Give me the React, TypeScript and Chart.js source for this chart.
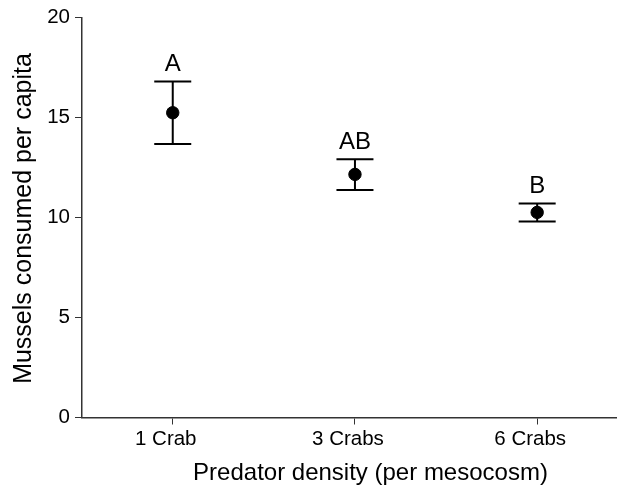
import React, { useEffect, useRef } from 'react';
import { Chart, registerables } from 'chart.js';

Chart.register(...registerables);

const categories = ['1 Crab', '3 Crabs', '6 Crabs'];
const means = [15.23, 12.15, 10.25];
const upper = [16.79, 12.9, 10.7];
const lower = [13.67, 11.37, 9.79];
const groupLetters = ['A', 'AB', 'B'];
const yTicks = [0, 5, 10, 15, 20];
const xTitle = 'Predator density (per mesocosm)';
const yTitle = 'Mussels consumed per capita';

const FONT = "'Liberation Sans', Arial, Helvetica, sans-serif";
const W = 624;
const H = 487;

const errorBarPlugin = {
  id: 'errorBars',
  beforeDatasetsDraw(chart: any) {
    const { ctx, scales } = chart;
    const x = scales.x;
    const y = scales.y;
    ctx.save();
    ctx.strokeStyle = '#000';
    ctx.lineWidth = 2;
    means.forEach((_m, i) => {
      const px = x.getPixelForValue(i + 1);
      const top = y.getPixelForValue(upper[i]);
      const bot = y.getPixelForValue(lower[i]);
      ctx.beginPath();
      ctx.moveTo(px, top);
      ctx.lineTo(px, bot);
      ctx.moveTo(px - 18.5, top);
      ctx.lineTo(px + 18.5, top);
      ctx.moveTo(px - 18.5, bot);
      ctx.lineTo(px + 18.5, bot);
      ctx.stroke();
      ctx.fillStyle = '#000';
      ctx.font = `24px ${FONT}`;
      ctx.textAlign = 'center';
      ctx.textBaseline = 'alphabetic';
      ctx.fillText(groupLetters[i], px, top - 10.5);
    });
    ctx.restore();
  },
  afterDraw(chart: any) {
    const { ctx } = chart;
    ctx.save();
    ctx.fillStyle = '#000';
    ctx.textAlign = 'center';
    ctx.textBaseline = 'alphabetic';
    ctx.font = `24px ${FONT}`;
    ctx.fillText(xTitle, 370.5, 480);
    ctx.font = `25px ${FONT}`;
    ctx.translate(31, 218.5);
    ctx.rotate(-Math.PI / 2);
    ctx.fillText(yTitle, 0, 0);
    ctx.restore();
  },
};

export default function App() {
  const ref = useRef<HTMLCanvasElement | null>(null);

  useEffect(() => {
    if (!ref.current) return;
    const chart = new Chart(ref.current, {
      type: 'scatter',
      data: {
        datasets: [
          {
            data: means.map((m, i) => ({ x: i + 1, y: m })),
            backgroundColor: '#000',
            borderColor: '#000',
            pointRadius: 6.2,
            pointHoverRadius: 6.2,
          },
        ],
      },
      options: {
        responsive: false,
        animation: false,
        events: [],
        layout: { padding: { top: 17.3, left: 0, right: 0, bottom: 0 } },
        plugins: {
          legend: { display: false },
          tooltip: { enabled: false },
        },
        scales: {
          x: {
            type: 'linear',
            min: 0.502,
            max: 3.437,
            afterBuildTicks: (scale: any) => {
              scale.ticks = categories.map((_c, i) => ({ value: i + 1 }));
            },
            afterFit: (scale: any) => {
              scale.height = H - 417.5;
            },
            ticks: {
              callback: (v: any) => categories[Math.round(Number(v)) - 1] ?? '',
              font: { family: FONT, size: 20.5 },
              color: '#000',
              padding: 3,
              labelOffset: -7,
              maxRotation: 0,
              autoSkip: false,
            },
            grid: {
              display: true,
              drawOnChartArea: false,
              drawTicks: true,
              tickLength: 7,
              color: '#333',
              lineWidth: 1,
            },
            border: { display: true, color: '#333', width: 1.5 },
          },
          y: {
            type: 'linear',
            min: 0,
            max: 20,
            afterBuildTicks: (scale: any) => {
              scale.ticks = yTicks.map((v) => ({ value: v }));
            },
            afterFit: (scale: any) => {
              scale.width = 82;
            },
            ticks: {
              font: { family: FONT, size: 20.5 },
              color: '#000',
              padding: 5,
            },
            grid: {
              display: true,
              drawOnChartArea: false,
              drawTicks: true,
              tickLength: 7,
              color: '#333',
              lineWidth: 1,
            },
            border: { display: true, color: '#333', width: 1.5 },
          },
        },
      },
      plugins: [errorBarPlugin],
    });
    return () => chart.destroy();
  }, []);

  return (
    <div style={{ position: 'fixed', left: 0, top: 0, width: W, height: H, background: '#fff' }}>
      <canvas ref={ref} width={W} height={H} style={{ display: 'block', width: W, height: H }} />
    </div>
  );
}
